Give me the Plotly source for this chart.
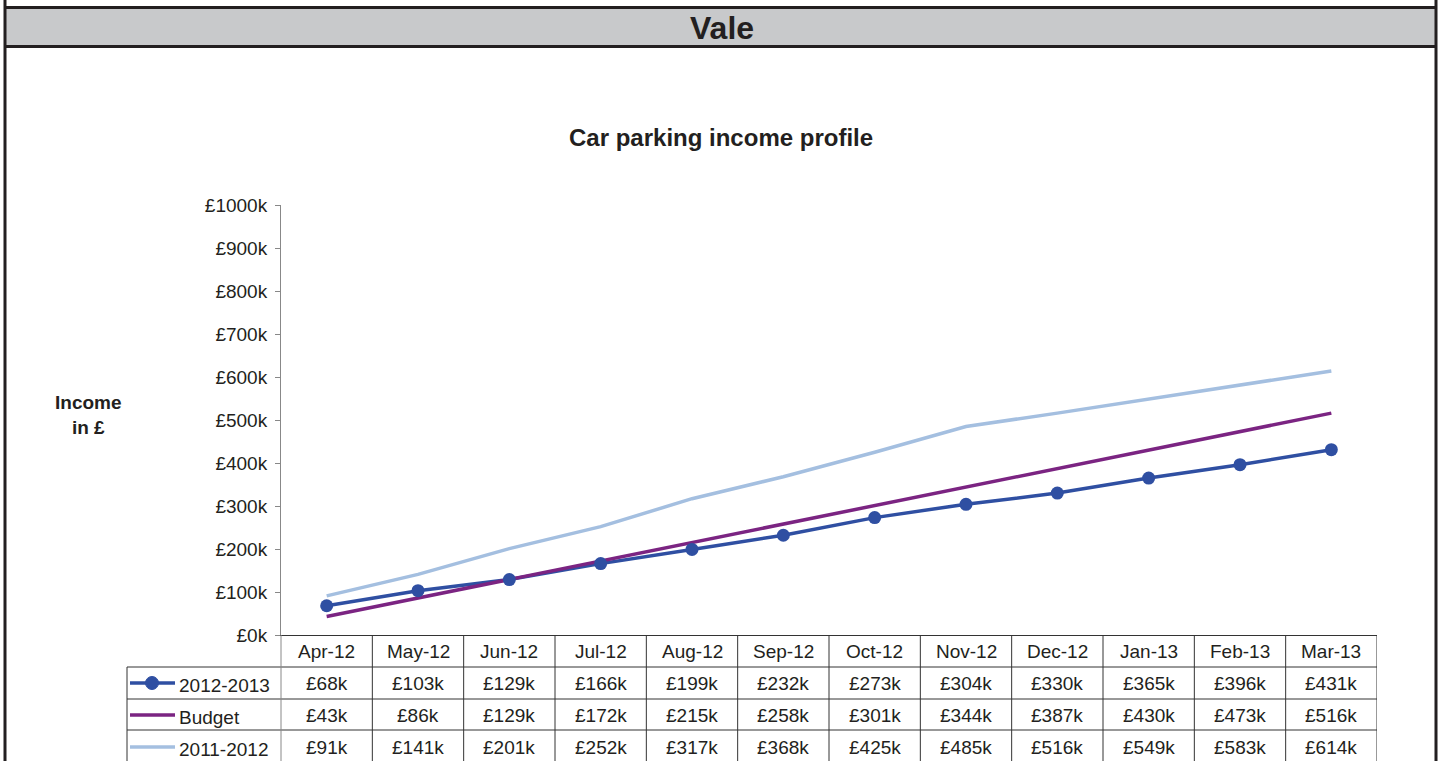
import plotly.graph_objects as go

W, H = 1441, 761

months = ["Apr-12", "May-12", "Jun-12", "Jul-12", "Aug-12", "Sep-12",
          "Oct-12", "Nov-12", "Dec-12", "Jan-13", "Feb-13", "Mar-13"]
income_2012_13 = [68, 103, 129, 166, 199, 232, 273, 304, 330, 365, 396, 431]
budget = [43, 86, 129, 172, 215, 258, 301, 344, 387, 430, 473, 516]
income_2011_12 = [91, 141, 201, 252, 317, 368, 425, 485, 516, 549, 583, 614]
y_ticks = list(range(0, 1001, 100))

DARK_BLUE = "#2f4fa2"
PURPLE = "#7b2482"
LIGHT_BLUE = "#a4bfe0"
FONT = "Arial, Liberation Sans, sans-serif"
TXT = "#231f20"
GRID = "#333333"

# plot area in pixels
X0, X1 = 281, 1377
Y_TOP, Y_ZERO = 205, 635


def px(x):
    return x / W


def py(y):
    return (H - y) / H


fig = go.Figure()

fig.add_trace(go.Scatter(x=months, y=income_2012_13, name="2012-2013", mode="lines",
                         line=dict(color=DARK_BLUE, width=3.5)))
fig.add_trace(go.Scatter(x=months, y=budget, name="Budget", mode="lines",
                         line=dict(color=PURPLE, width=3.5)))
fig.add_trace(go.Scatter(x=months, y=income_2011_12, name="2011-2012", mode="lines",
                         line=dict(color=LIGHT_BLUE, width=3.5)))
fig.add_trace(go.Scatter(x=months, y=income_2012_13, name="2012-2013", mode="markers",
                         marker=dict(color=DARK_BLUE, size=13, symbol="circle")))

shapes = []
annotations = []

# outer frame + header band
shapes.append(dict(type="rect", xref="paper", yref="paper", x0=px(5), x1=px(1436),
                   y0=py(46.5), y1=py(7.5), fillcolor="#c8c9cb", line=dict(width=0), layer="below"))
for yy in (7.5, 46.5):
    shapes.append(dict(type="line", xref="paper", yref="paper", x0=px(5), x1=px(1436),
                       y0=py(yy), y1=py(yy), line=dict(color=TXT, width=3)))
for xx in (5, 1436):
    shapes.append(dict(type="line", xref="paper", yref="paper", x0=px(xx), x1=px(xx),
                       y0=0, y1=1, line=dict(color=TXT, width=3)))


def note(text, x, y, size, xref="paper", xanchor="center", align="center"):
    annotations.append(dict(text=text, xref=xref, yref="paper", x=x, y=py(y),
                            xanchor=xanchor, yanchor="middle", align=align,
                            showarrow=False, font=dict(size=size, color=TXT, family=FONT)))


note("<b>Vale</b>", px(722), 28, 32)
note("<b>Car parking income profile</b>", px(721), 138, 24)
note("<b>Income<br>in £</b>", px(88), 415, 19)

# data table below the plot
ROW_LINES = [667, 699, 730]
TABLE_BOTTOM = 761
LEFT_COL = 127
for yy in ROW_LINES:
    shapes.append(dict(type="line", xref="paper", yref="paper", x0=px(LEFT_COL), x1=px(X1),
                       y0=py(yy), y1=py(yy), line=dict(color=GRID, width=1)))
shapes.append(dict(type="line", xref="paper", yref="paper", x0=px(LEFT_COL), x1=px(LEFT_COL),
                   y0=py(TABLE_BOTTOM), y1=py(ROW_LINES[0]), line=dict(color=GRID, width=1)))
for i in range(1, len(months) + 1):
    shapes.append(dict(type="line", xref="x", yref="paper", x0=i - 0.5, x1=i - 0.5,
                       y0=py(TABLE_BOTTOM), y1=py(Y_ZERO), line=dict(color=GRID, width=1)))
shapes.append(dict(type="line", xref="paper", yref="paper", x0=px(X0), x1=px(X0),
                   y0=py(TABLE_BOTTOM), y1=py(Y_ZERO), line=dict(color="#888888", width=1)))

row_centers = [651, 683, 715, 747]
for i, m in enumerate(months):
    note(m, m, row_centers[0], 19, xref="x")
    for r, series in enumerate([income_2012_13, budget, income_2011_12]):
        note(f"£{series[i]}k", m, row_centers[r + 1], 19, xref="x")

legend_rows = [("2012-2013", DARK_BLUE, True), ("Budget", PURPLE, False),
               ("2011-2012", LIGHT_BLUE, False)]
for r, (label, col, has_marker) in enumerate(legend_rows):
    yc = row_centers[r + 1]
    shapes.append(dict(type="line", xref="paper", yref="paper", x0=px(130), x1=px(175),
                       y0=py(yc), y1=py(yc), line=dict(color=col, width=3.5)))
    if has_marker:
        shapes.append(dict(type="circle", xref="paper", yref="paper", x0=px(145.5), x1=px(158.5),
                           y0=py(yc + 6.5), y1=py(yc - 6.5), fillcolor=col,
                           line=dict(color=col, width=1)))
    note(label, px(177), yc + 2, 19, xanchor="left")

fig.update_layout(
    width=W, height=H,
    margin=dict(l=0, r=0, t=0, b=0, autoexpand=False),
    paper_bgcolor="white",
    plot_bgcolor="white",
    showlegend=False,
    font=dict(family=FONT, color=TXT),
    xaxis=dict(
        domain=[px(X0), px(X1)],
        type="category",
        range=[-0.5, len(months) - 0.5],
        showticklabels=False,
        ticks="",
        showgrid=False,
        zeroline=False,
        showline=True,
        linecolor=GRID,
        linewidth=1,
        automargin=False,
    ),
    yaxis=dict(
        domain=[py(Y_ZERO), py(Y_TOP)],
        range=[0, 1000],
        tickvals=y_ticks,
        ticktext=[f"£{v}k" for v in y_ticks],
        ticks="outside",
        ticklen=5,
        tickcolor="#888888",
        ticklabelstandoff=4,
        tickfont=dict(size=19, color=TXT, family=FONT),
        showgrid=False,
        zeroline=False,
        showline=True,
        linecolor="#888888",
        linewidth=1,
        automargin=False,
    ),
    shapes=shapes,
    annotations=annotations,
)

fig.write_html("out.html", config={"displayModeBar": False},
               post_script="document.body.style.margin='0';document.body.style.overflow='hidden';")
